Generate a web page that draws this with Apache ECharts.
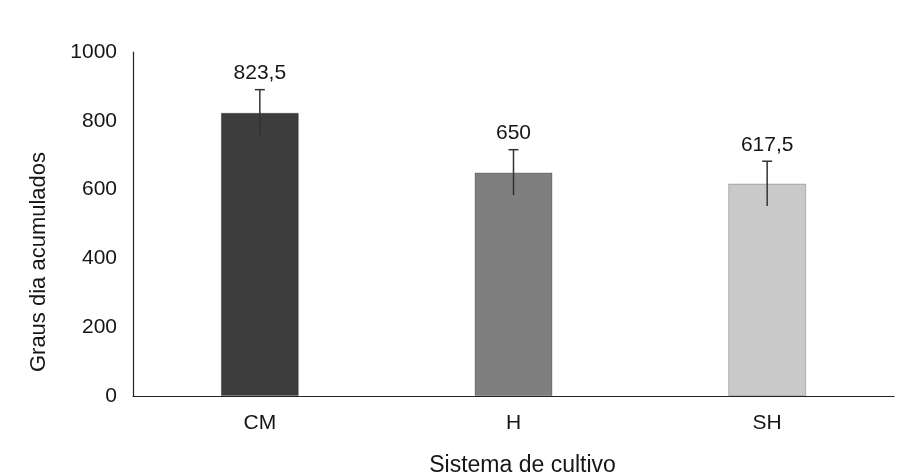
<!DOCTYPE html>
<html>
<head>
<meta charset="utf-8">
<script src="https://cdn.jsdelivr.net/npm/echarts@6/dist/echarts.min.js"></script>
<style>
  html, body { margin: 0; padding: 0; background: #fff; }
  #chart { width: 917px; height: 476px; }
</style>
</head>
<body>
<div id="chart"></div>
<script>
// Accumulated degree-days per cropping system
const categories = ['CM', 'H', 'SH'];
const values = [823.5, 650, 617.5];
const errors = [67, 66, 65];
const barColors = ['#3d3d3d', '#7f7f7f', '#c9c9c9'];
const yTicks = [0, 200, 400, 600, 800, 1000];

const fmt = v => String(v).replace('.', ',');

const chart = echarts.init(document.getElementById('chart'));
const FONT = 'Liberation Sans, Arial, sans-serif';
const TEXT = '#161616';

chart.setOption({
  backgroundColor: '#fff',
  animation: false,
  grid: { left: 133, right: 23, top: 52, bottom: 80, outerBoundsMode: 'none', containLabel: false },
  xAxis: {
    type: 'category',
    data: categories,
    name: 'Sistema de cultivo',
    nameLocation: 'middle',
    nameGap: 58,
    nameTextStyle: { color: TEXT, fontSize: 23, fontFamily: FONT, padding: [0, 0, 0, 18] },
    axisLine: { lineStyle: { color: '#222', width: 1.2 } },
    axisTick: { show: false },
    axisLabel: { color: TEXT, fontSize: 21, fontFamily: FONT, margin: 17 }
  },
  yAxis: {
    type: 'value',
    min: yTicks[0],
    max: yTicks[yTicks.length - 1],
    interval: 200,
    name: 'Graus dia acumulados',
    nameLocation: 'middle',
    nameGap: 83,
    nameRotate: 90,
    nameTextStyle: { color: TEXT, fontSize: 22, fontFamily: FONT, padding: [0, 76, 0, 0] },
    axisLine: { show: true, lineStyle: { color: '#222', width: 1.2 } },
    axisTick: { show: false },
    splitLine: { show: false },
    axisLabel: { color: TEXT, fontSize: 21, fontFamily: FONT, margin: 16, formatter: v => String(v) }
  },
  series: [
    {
      type: 'bar',
      barWidth: 78,
      data: values.map((v, i) => ({
        value: v,
        itemStyle: { color: barColors[i], borderColor: 'rgba(0,0,0,0.22)', borderWidth: 1 }
      }))
    },
    {
      type: 'custom',
      z: 5,
      data: values.map((v, i) => [i, v, errors[i]]),
      renderItem: function (params, api) {
        const x = api.value(0);
        const v = api.value(1);
        const e = api.value(2);
        const top = api.coord([x, v + e]);
        const bot = api.coord([x, v - e]);
        const cap = 5;
        const style = { stroke: '#333', lineWidth: 1.5 };
        return {
          type: 'group',
          children: [
            { type: 'line', shape: { x1: top[0], y1: top[1], x2: bot[0], y2: bot[1] }, style },
            { type: 'line', shape: { x1: top[0] - cap, y1: top[1], x2: top[0] + cap, y2: top[1] }, style },
            {
              type: 'text',
              x: top[0],
              y: top[1] - 6,
              style: {
                text: fmt(v),
                fill: TEXT,
                font: '21px ' + FONT,
                align: 'center',
                verticalAlign: 'bottom'
              }
            }
          ]
        };
      }
    }
  ]
});
</script>
</body>
</html>
